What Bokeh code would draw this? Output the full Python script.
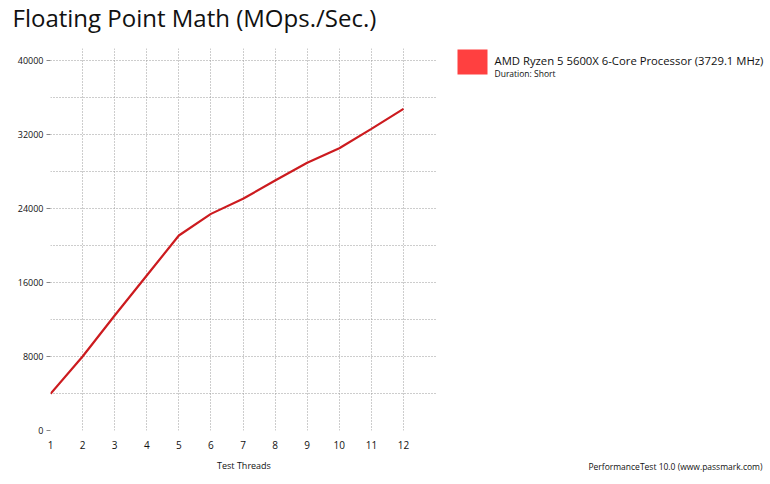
from bokeh.plotting import figure
from bokeh.layouts import column, row
from bokeh.models import Range1d, FixedTicker, SingleIntervalTicker, Label, BoxAnnotation, ColumnDataSource
from bokeh.embed import file_html
from bokeh.resources import INLINE

threads = [1, 2, 3, 4, 5, 6, 7, 8, 9, 10, 11, 12]
mops = [3970, 8000, 12430, 16760, 21080, 23420, 25050, 27030, 28940, 30520, 32610, 34770]
y_ticks = [0, 8000, 16000, 24000, 32000, 40000]
series_name = "AMD Ryzen 5 5600X 6-Core Processor (3729.1 MHz)"
series_sub = "Duration: Short"
title_text = "Floating Point Math (MOps./Sec.)"
x_label = "Test Threads"
footer = "PerformanceTest 10.0 (www.passmark.com)"

W, H = 770, 484
STRIP = 3
MB = H - STRIP            # bottom of the main area
FL, FR, FT, FB = 50, 437, 48, 430
FONT = "Open Sans"
TXT = "#111111"


def blank(w, h, bg="white"):
    f = figure(width=w, height=h, output_backend="svg", toolbar_location=None,
               x_range=Range1d(0, w), y_range=Range1d(0, h),
               x_axis_location=None, y_axis_location=None,
               min_border=0, min_border_left=0, min_border_right=0,
               min_border_top=0, min_border_bottom=0)
    f.grid.visible = False
    f.outline_line_color = None
    f.background_fill_color = bg
    f.border_fill_color = bg
    f.frame_align = False
    return f


# ---- header with title
head = blank(W, FT)
head.add_layout(Label(x=12, y=FT - 17, x_units="screen", y_units="screen", text=title_text,
                      text_font=FONT, text_font_size="24px", text_color=TXT,
                      text_baseline="alphabetic"))

# ---- chart
p = figure(width=FR, height=MB - FT, output_backend="svg", toolbar_location=None,
           x_range=Range1d(1, 13.06), y_range=Range1d(0, 41300),
           min_border_left=FL, min_border_right=0,
           min_border_top=0, min_border_bottom=MB - FB)
p.frame_align = False
p.outline_line_color = None
p.background_fill_color = "white"
p.border_fill_color = "white"

src = ColumnDataSource(dict(x=threads, y=mops))
p.line("x", "y", source=src, line_color="#cc1b1f", line_width=2.2)

xa = p.xaxis[0]
xa.ticker = FixedTicker(ticks=threads)
xa.axis_line_color = None
xa.major_tick_line_color = None
xa.minor_tick_line_color = None
xa.major_label_text_font = FONT
xa.major_label_text_font_size = "10px"
xa.major_label_text_color = TXT
xa.major_label_standoff = 4
xa.axis_label = x_label
xa.axis_label_text_font = FONT
xa.axis_label_text_font_size = "9px"
xa.axis_label_text_font_style = "normal"
xa.axis_label_text_color = TXT
xa.axis_label_standoff = 7

ya = p.yaxis[0]
ya.ticker = FixedTicker(ticks=y_ticks)
ya.axis_line_color = None
ya.major_tick_line_color = "#888888"
ya.major_tick_out = 4
ya.major_tick_in = 0
ya.minor_tick_line_color = None
ya.major_label_text_font = FONT
ya.major_label_text_font_size = "9px"
ya.major_label_text_color = TXT
ya.major_label_standoff = 3

p.xgrid.ticker = FixedTicker(ticks=threads)
p.ygrid.ticker = SingleIntervalTicker(interval=4000)
for g in (p.xgrid[0], p.ygrid[0]):
    g.grid_line_color = "#9a9a9a"
    g.grid_line_dash = "1 2"
    g.grid_line_width = 1

# ---- side panel with legend and footer
SW, SH = W - FR, MB - FT
side = blank(SW, SH)
side.add_layout(BoxAnnotation(left=457 - FR, right=487 - FR, top=MB - 49, bottom=MB - 74,
                              left_units="screen", right_units="screen",
                              top_units="screen", bottom_units="screen",
                              fill_color="#ff4040", fill_alpha=1, line_color=None))


def lab(fig, text, cx, cy, size, align="left"):
    fig.add_layout(Label(x=cx - FR, y=MB - cy, x_units="screen", y_units="screen",
                         text=text, text_font=FONT, text_font_size=size,
                         text_align=align, text_baseline="alphabetic", text_color=TXT))


lab(side, series_name, 494, 60, "11.3px")
lab(side, series_sub, 494, 73, "8.5px")
lab(side, footer, 762, 466, "8.5px", align="right")

# ---- thin grey strip at the bottom
strip = blank(W, STRIP, bg="#f0f0f0")

layout = column(head, row(p, side, spacing=0), strip, spacing=0)
open("out.html", "w").write(file_html(layout, INLINE))
